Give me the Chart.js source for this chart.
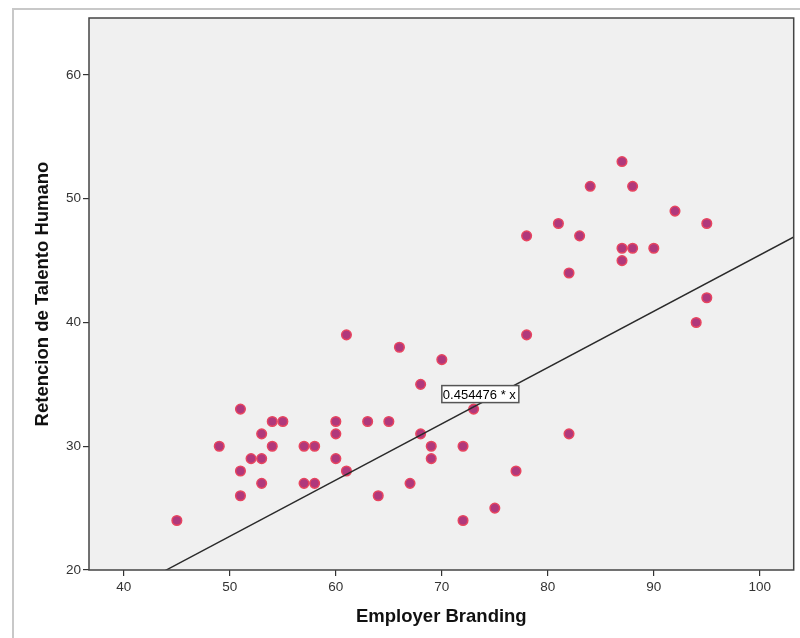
<!DOCTYPE html>
<html><head><meta charset="utf-8">
<script src="https://cdn.jsdelivr.net/npm/chart.js@4"></script>
<style>
html,body{margin:0;padding:0;background:#fff;}
#wrap{position:relative;width:800px;height:638px;overflow:hidden;}
#frame{position:absolute;left:12px;top:8px;width:800px;height:640px;border-top:2px solid #c8c8c8;border-left:2px solid #c8c8c8;}
canvas{position:absolute;left:0;top:0;}
</style></head><body>
<div id="wrap"><div id="frame"></div><canvas id="c" width="800" height="638"></canvas></div>
<script>
const employerBranding = [45,49,51,51,51,52,53,53,53,54,54,55,57,57,58,58,60,60,60,61,61,63,64,65,66,67,68,68,69,69,70,73,72,72,75,77,78,78,81,82,82,83,84,87,87,87,88,88,90,92,94,95,95];
const retencionTalento = [24,30,33,28,26,29,31,29,27,32,30,32,30,27,30,27,32,31,29,39,28,32,26,32,38,27,35,31,30,29,37,33,30,24,25,28,47,39,48,44,31,47,51,53,46,45,51,46,46,49,40,48,42];
const xTicks = [40,50,60,70,80,90,100];
const yTicks = [20,30,40,50,60];
const fitSlope = 0.454476;
const fitLabel = '0.454476 * x';
const fitLineX = [0, 120];
const xTitle = 'Employer Branding';
const yTitle = 'Retencion de Talento Humano';

const points = employerBranding.map((x,i)=>({x:x, y:retencionTalento[i]}));
const fitPoints = fitLineX.map(x=>({x:x, y:fitSlope*x}));

const FONT = "'Liberation Sans', Arial, sans-serif";

const deco = {
  id:'deco',
  beforeDraw(chart){
    const {ctx, chartArea:a} = chart;
    ctx.save();
    ctx.fillStyle = '#f0f0f0';
    ctx.fillRect(a.left, a.top, a.right-a.left, a.bottom-a.top);
    ctx.restore();
  },
  afterDatasetsDraw(chart){
    const {ctx, scales} = chart;
    const left = scales.x.getPixelForValue(70.0);
    const top = scales.y.getPixelForValue(34.9);
    ctx.save();
    ctx.font = '13px ' + FONT;
    const w = ctx.measureText(fitLabel).width + 4;
    const h = 17;
    ctx.fillStyle = '#fff';
    ctx.fillRect(left, top, w, h);
    ctx.strokeStyle = '#555';
    ctx.lineWidth = 1.5;
    ctx.strokeRect(left, top, w, h);
    ctx.fillStyle = '#000';
    ctx.textBaseline = 'middle';
    ctx.fillText(fitLabel, left + 1, top + h/2 + 1);
    ctx.restore();
  },
  afterDraw(chart){
    const {ctx, chartArea:a} = chart;
    ctx.save();
    ctx.strokeStyle = '#444';
    ctx.lineWidth = 1.5;
    ctx.strokeRect(a.left, a.top, a.right-a.left, a.bottom-a.top);
    ctx.restore();
  }
};

new Chart(document.getElementById('c'), {
  type:'scatter',
  data:{
    datasets:[
      {type:'line', data:fitPoints, borderColor:'#2a2a2a', borderWidth:1.4, pointRadius:0, fill:false, clip:0, order:1},
      {type:'scatter', data:points, backgroundColor:'#b0387b', borderColor:'#e8455f', borderWidth:1.5, pointRadius:4.8, order:2}
    ]
  },
  options:{
    responsive:false,
    animation:false,
    devicePixelRatio:1,
    layout:{padding:{top:18, right:1, left:0, bottom:0}},
    plugins:{legend:{display:false}, tooltip:{enabled:false}},
    scales:{
      x:{
        type:'linear', position:'bottom', min:36.71, max:103.2,
        afterBuildTicks:s=>{ s.ticks = xTicks.map(v=>({value:v})); },
        afterFit:s=>{ s.height = 68; },
        grid:{display:true, drawOnChartArea:false, drawTicks:true, tickLength:6, tickColor:'#333', lineWidth:1.2},
        border:{display:false},
        ticks:{font:{family:FONT, size:13.5}, color:'#333', padding:3, maxRotation:0},
        title:{display:true, text:xTitle, color:'#111', font:{family:FONT, size:18.5, weight:'bold'}, padding:{top:0, bottom:9.9}}
      },
      y:{
        type:'linear', position:'left', min:20, max:64.6,
        afterBuildTicks:s=>{ s.ticks = yTicks.map(v=>({value:v})); },
        afterFit:s=>{ s.width = 89; },
        grid:{display:true, drawOnChartArea:false, drawTicks:true, tickLength:6, tickColor:'#333', lineWidth:1.2},
        border:{display:false},
        ticks:{font:{family:FONT, size:13.5}, color:'#333', padding:2},
        title:{display:true, text:yTitle, color:'#111', font:{family:FONT, size:18.5, weight:'bold'}, padding:{top:31.9, bottom:0}}
      }
    }
  },
  plugins:[deco]
});
</script>
</body></html>
